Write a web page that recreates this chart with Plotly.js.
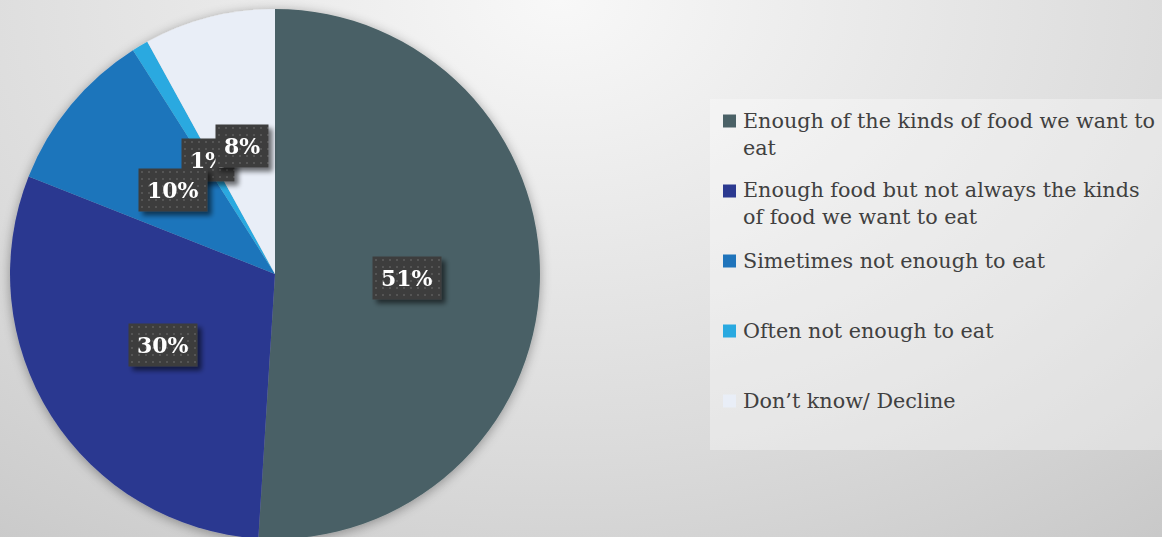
<!DOCTYPE html>
<html>
<head>
<meta charset="utf-8">
<script src="https://cdn.plot.ly/plotly-3.0.1.min.js"></script>
<style>
  html, body { margin: 0; padding: 0; width: 1162px; height: 537px; overflow: hidden; }
  body { background: radial-gradient(ellipse 1050px 750px at 560px 0px, #f8f8f8 0%, #dbdbdb 60%, #c4c4c4 100%); }
  #chart { width: 1162px; height: 545px; }
</style>
</head>
<body>
<svg width="0" height="0" style="position:absolute">
  <defs>
    <filter id="pieShadow" x="-20%" y="-20%" width="140%" height="140%">
      <feGaussianBlur in="SourceAlpha" stdDeviation="6"/>
      <feOffset dx="0" dy="2" result="b"/>
      <feComponentTransfer><feFuncA type="linear" slope="0.35"/></feComponentTransfer>
      <feMerge><feMergeNode/><feMergeNode in="SourceGraphic"/></feMerge>
    </filter>
    <filter id="boxShadow" x="-30%" y="-30%" width="160%" height="160%">
      <feGaussianBlur in="SourceAlpha" stdDeviation="2.5"/>
      <feOffset dx="4" dy="4" result="b"/>
      <feComponentTransfer><feFuncA type="linear" slope="0.55"/></feComponentTransfer>
      <feMerge><feMergeNode/><feMergeNode in="SourceGraphic"/></feMerge>
    </filter>
    <pattern id="dots" width="7" height="7" patternUnits="userSpaceOnUse">
      <rect width="7" height="7" fill="#3c3c3c"/>
      <rect x="3" y="3" width="2" height="2" fill="#545454"/>
    </pattern>
  </defs>
</svg>
<div id="chart"></div>
<script>
// ---- data ----
const labels = [
  "Enough of the kinds of food we want to<br>eat",
  "Enough food but not always the kinds<br>of food we want to eat",
  "Simetimes not enough to eat",
  "Often not enough to eat",
  "Don’t know/ Decline"
];
const values = [51, 30, 10, 1, 8];
const pctLabels = ["51%", "30%", "10%", "1%", "8%"];
const colors = ["#4a6166", "#2b3990", "#1f74bb", "#29a9e0", "#e9eef7"];

// ---- layout constants (px) ----
const W = 1162, H = 545;
const cx = 275, cy = 274, R = 265;
const px2x = p => p / W;
const px2y = p => 1 - p / H;

const serif = "DejaVu Serif, Georgia, serif";

const trace = {
  type: "pie",
  labels: labels,
  values: values,
  sort: false,
  direction: "clockwise",
  rotation: 0,
  textinfo: "none",
  hoverinfo: "label+percent",
  marker: { colors: colors, line: { width: 0 } },
  domain: { x: [px2x(cx - R), px2x(cx + R)], y: [px2y(cy + R), px2y(cy - R)] },
  showlegend: false
};

// percentage labels at half radius along each slice's mid-angle
const total = values.reduce((a, b) => a + b, 0);
let cum = 0;
const labelAnns = [];
values.forEach((v, i) => {
  const th = 2 * Math.PI * (cum + v / 2) / total;
  cum += v;
  labelAnns.push({
    v: v,
    ann: {
      xref: "paper", yref: "paper",
      x: px2x(cx + 0.5 * R * Math.sin(th)),
      y: px2y(cy - 0.5 * R * Math.cos(th)),
      xanchor: "center", yanchor: "middle",
      text: "<b>" + pctLabels[i] + "</b>",
      showarrow: false,
      font: { family: serif, size: 22, color: "#ffffff" },
      bgcolor: "#3c3c3c",
      borderpad: 8
    }
  });
});
// draw smaller slices first so larger labels sit on top
labelAnns.sort((a, b) => a.v - b.v);
const annotations = labelAnns.map(o => o.ann);
const nLabelAnns = annotations.length;

// legend (manual, evenly spaced as in reference)
const legX = 710, legTop = 99, legBottom = 450;
const firstY = 121, stepY = 70;
const shapes = [{
  type: "rect", xref: "paper", yref: "paper", layer: "below",
  x0: px2x(legX), x1: 1, y0: px2y(legBottom), y1: px2y(legTop),
  fillcolor: "rgba(255,255,255,0.33)", line: { width: 0 }
}];
labels.forEach((lab, i) => {
  const yc = firstY + stepY * i;
  shapes.push({
    type: "rect", xref: "paper", yref: "paper",
    x0: px2x(723), x1: px2x(736), y0: px2y(yc + 6.5), y1: px2y(yc - 6.5),
    fillcolor: colors[i], line: { width: 0 }
  });
  annotations.push({
    xref: "paper", yref: "paper",
    x: px2x(742), y: px2y(yc - 13.5),
    xanchor: "left", yanchor: "top", align: "left",
    text: lab, showarrow: false, borderpad: 0,
    font: { family: serif, size: 20.7, color: "#404040" }
  });
});

const layout = {
  width: W, height: H,
  margin: { l: 0, r: 0, t: 0, b: 0 },
  paper_bgcolor: "rgba(0,0,0,0)",
  plot_bgcolor: "rgba(0,0,0,0)",
  showlegend: false,
  shapes: shapes,
  annotations: annotations
};

Plotly.newPlot("chart", [trace], layout, { displayModeBar: false, staticPlot: true }).then(() => {
  const pl = document.querySelector(".pielayer");
  if (pl) pl.setAttribute("filter", "url(#pieShadow)");
  const anns = document.querySelectorAll("g.annotation");
  for (let i = 0; i < nLabelAnns && i < anns.length; i++) {
    anns[i].setAttribute("filter", "url(#boxShadow)");
    const bg = anns[i].querySelector("rect.bg");
    if (bg) bg.style.fill = "url(#dots)";
  }
});
</script>
</body>
</html>
